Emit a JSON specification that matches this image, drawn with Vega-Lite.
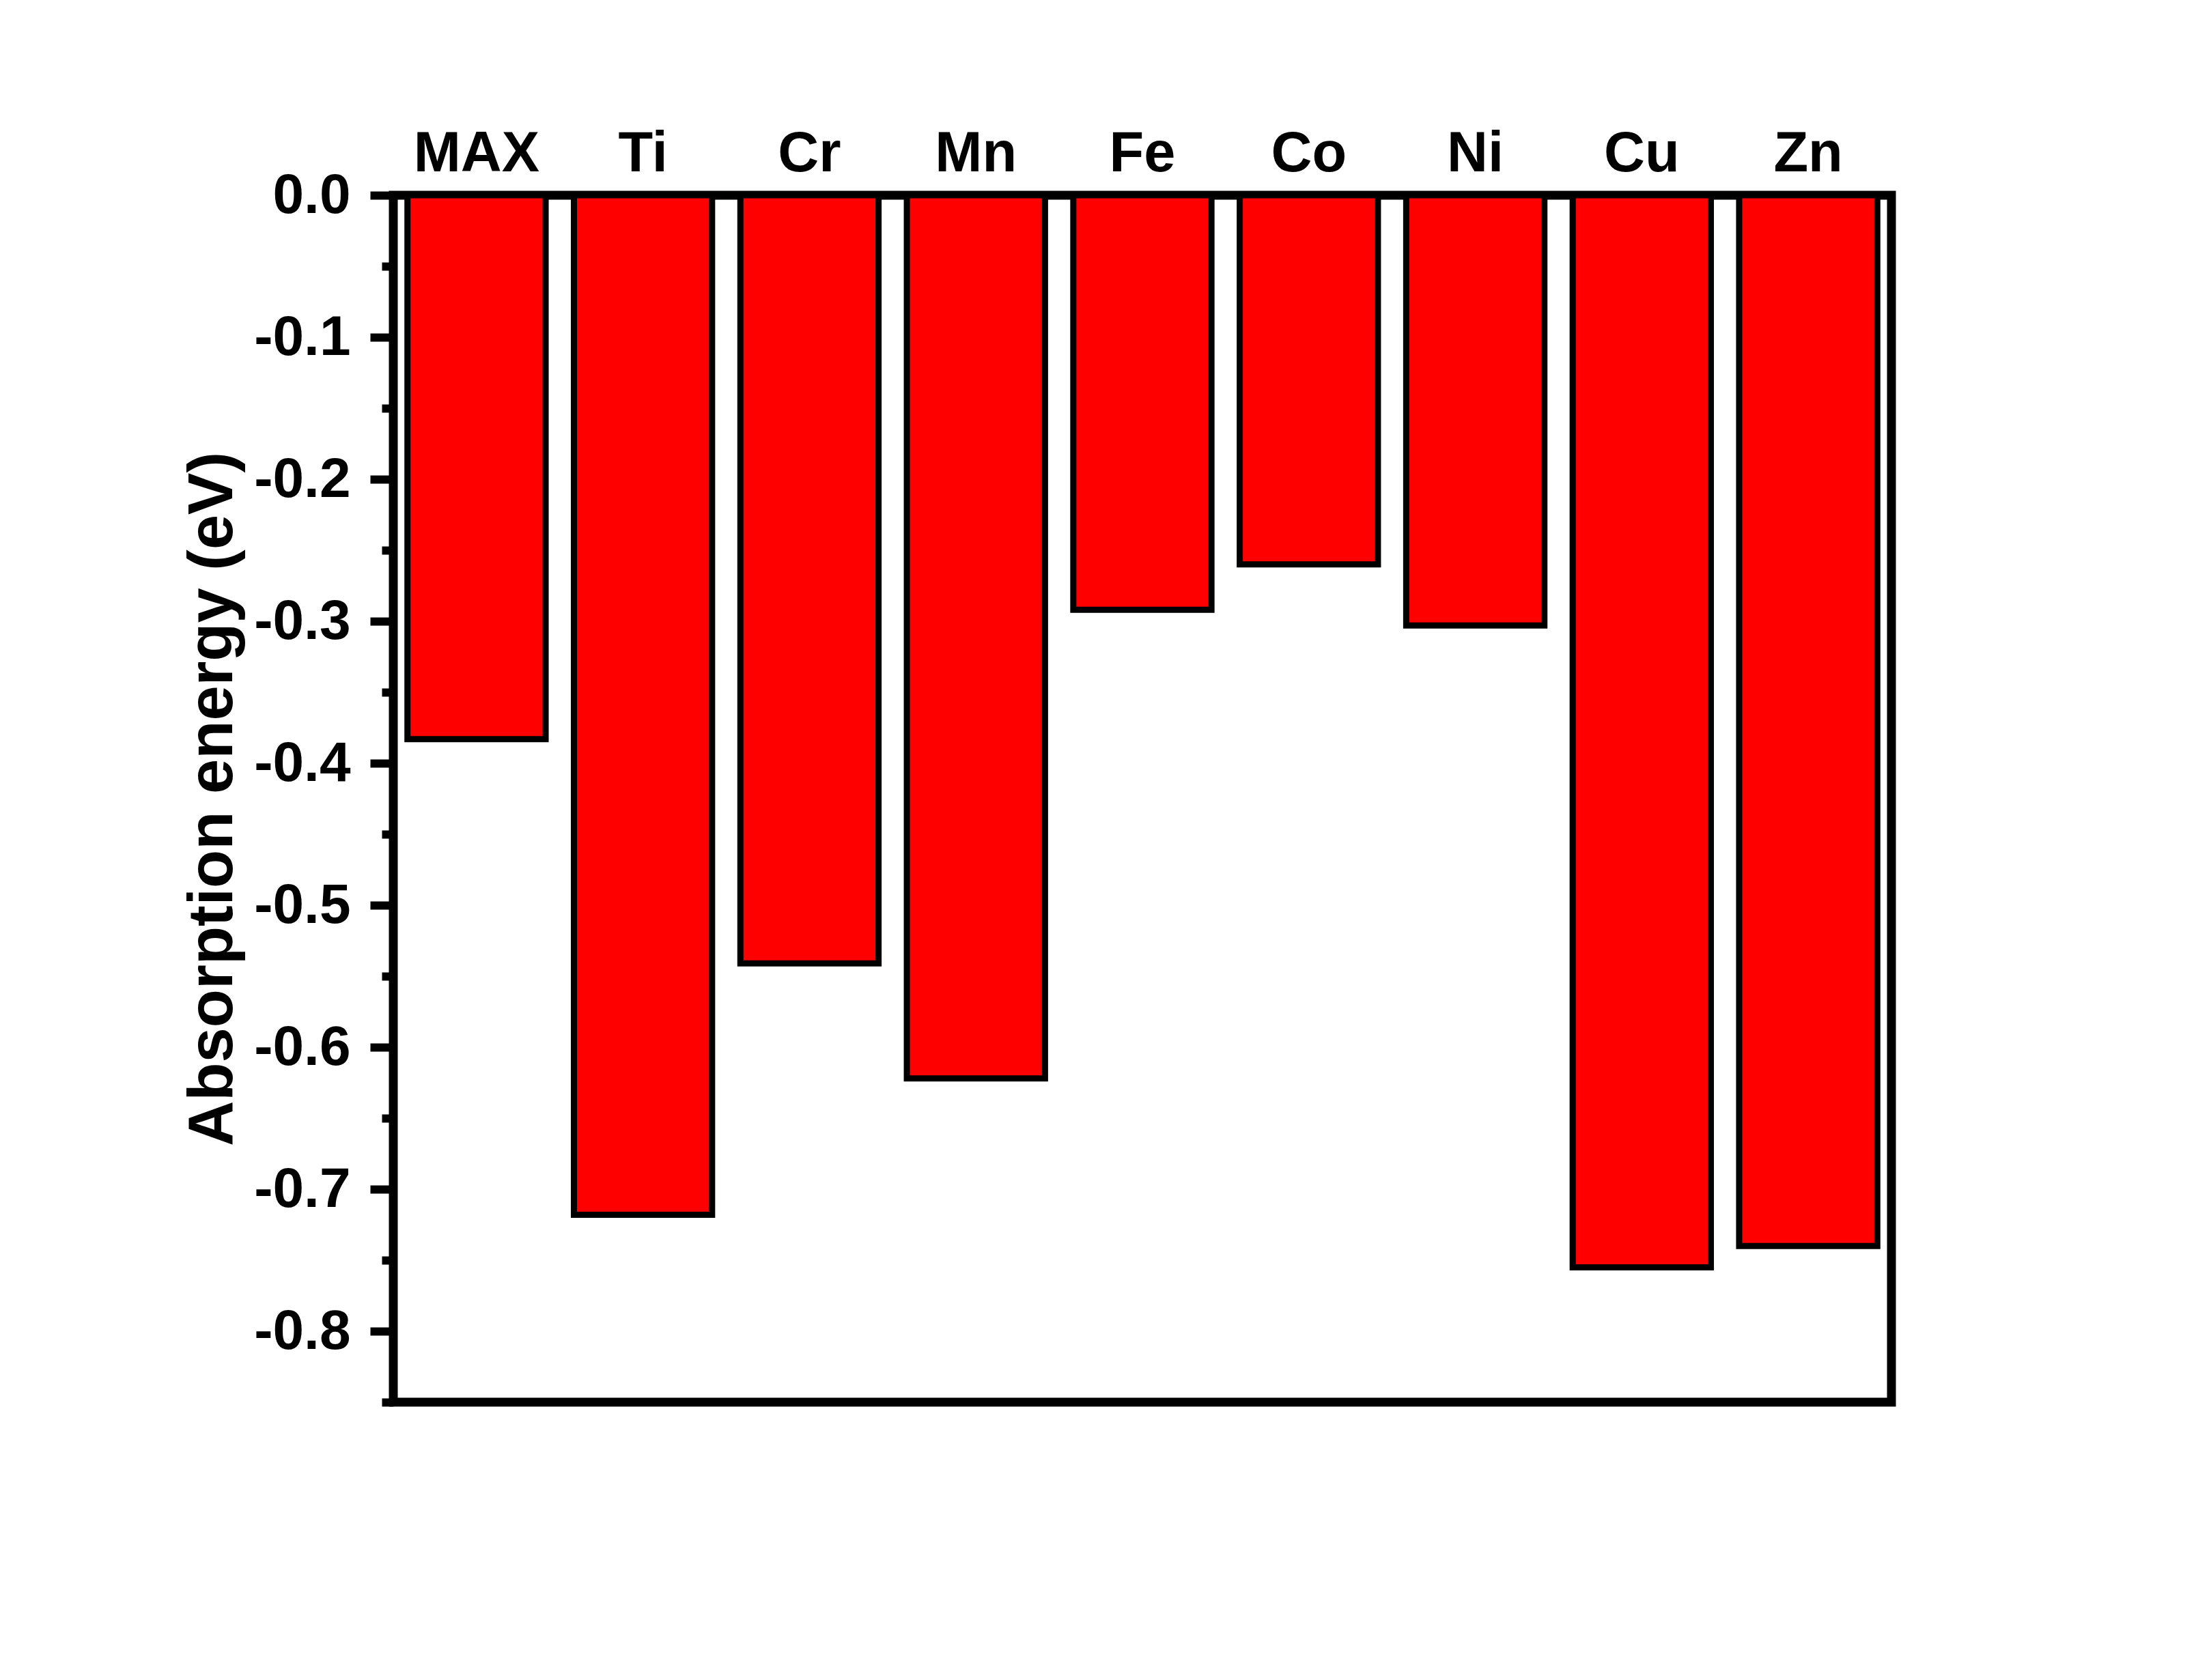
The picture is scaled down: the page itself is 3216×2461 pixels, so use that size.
{
  "$schema": "https://vega.github.io/schema/vega-lite/v6.json",
  "autosize": {"type": "none"},
  "padding": {"left": 576, "top": 286, "right": 446, "bottom": 407},
  "width": 2194,
  "height": 1768,
  "background": "white",
  "config": {
    "view": {"stroke": "black", "strokeWidth": 13},
    "font": "Liberation Sans"
  },
  "data": {
    "values": [
      {"metal": "MAX", "energy": -0.383},
      {"metal": "Ti", "energy": -0.718},
      {"metal": "Cr", "energy": -0.541},
      {"metal": "Mn", "energy": -0.622},
      {"metal": "Fe", "energy": -0.292},
      {"metal": "Co", "energy": -0.260},
      {"metal": "Ni", "energy": -0.303},
      {"metal": "Cu", "energy": -0.755},
      {"metal": "Zn", "energy": -0.740}
    ]
  },
  "layer": [
    {
      "mark": {"type": "bar", "fill": "#FF0000", "stroke": "black", "strokeWidth": 9},
      "encoding": {
        "x": {
          "field": "metal", "type": "nominal", "sort": null,
          "scale": {"paddingInner": 0.17, "paddingOuter": 0.085},
          "axis": {
            "orient": "top", "title": null, "domain": false, "ticks": false, "tickSize": 0,
            "labelAngle": 0, "labelFont": "Liberation Sans", "labelFontSize": 83,
            "labelFontWeight": "bold", "labelColor": "black", "labelPadding": 19,
            "labelLimit": 0
          }
        },
        "y": {
          "field": "energy", "type": "quantitative",
          "scale": {"domain": [-0.85, 0], "nice": false},
          "axis": {
            "orient": "left",
            "values": [0, -0.1, -0.2, -0.3, -0.4, -0.5, -0.6, -0.7, -0.8],
            "format": ".1f",
            "labelExpr": "replace(datum.label, '\u2212', '-')",
            "grid": false, "domain": false,
            "tickSize": 34, "tickWidth": 12, "tickColor": "black",
            "labelFont": "Liberation Sans", "labelFontSize": 82, "labelFontWeight": "bold",
            "labelColor": "black", "labelPadding": 29,
            "title": "Absorption energy (eV)", "titleFont": "Liberation Sans",
            "titleFontSize": 92, "titleFontWeight": "bold", "titleColor": "black",
            "titlePadding": 18
          }
        }
      }
    },
    {
      "mark": {"type": "bar", "opacity": 0},
      "encoding": {
        "x": {"field": "metal", "type": "nominal", "sort": null},
        "y": {
          "field": "energy", "type": "quantitative",
          "axis": {
            "orient": "left",
            "values": [-0.05, -0.15, -0.25, -0.35, -0.45, -0.55, -0.65, -0.75, -0.85],
            "labels": false, "grid": false, "domain": false, "title": null,
            "tickSize": 17, "tickWidth": 12, "tickColor": "black"
          }
        }
      }
    }
  ],
  "resolve": {"axis": {"y": "independent"}}
}
